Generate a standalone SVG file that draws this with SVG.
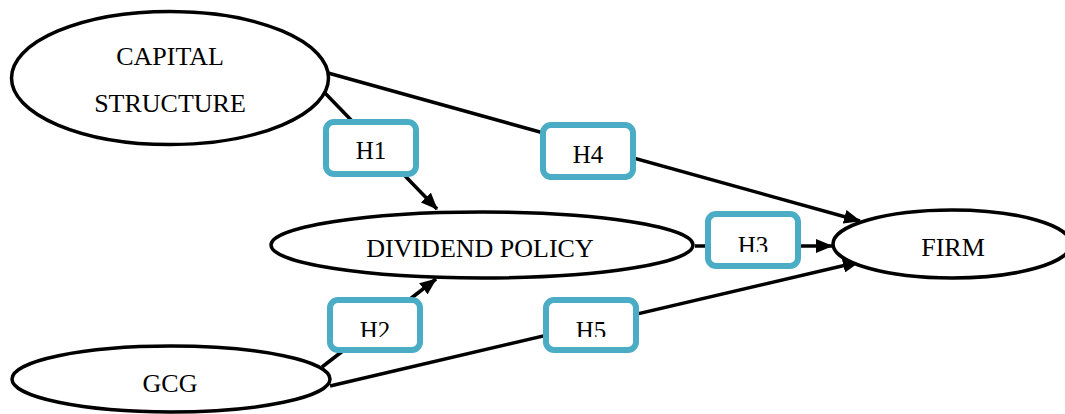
<svg xmlns="http://www.w3.org/2000/svg" width="1065" height="414" viewBox="0 0 1065 414">
<style>
.node{fill:#fff;stroke:#000;stroke-width:3.5}
.hyp{fill:#fff;stroke:#4BACC6;stroke-width:6}
.lbl{font-family:"Liberation Serif","Times New Roman",serif;font-size:26px;fill:#000;text-anchor:middle}
.hl{font-family:"Liberation Serif","Times New Roman",serif;font-size:25px;fill:#000;text-anchor:middle}
.edge{stroke:#000;stroke-width:3.5;fill:none}
</style>
<defs>
<marker id="arr" markerUnits="userSpaceOnUse" markerWidth="18" markerHeight="14" refX="16" refY="7" orient="auto">
<path d="M0,0 L17,7 L0,14 z" fill="#000"/>
</marker>
<clipPath id="c2"><rect x="330" y="300" width="90" height="37"/></clipPath>
<clipPath id="c5"><rect x="546" y="300" width="90" height="37"/></clipPath>
<clipPath id="c3"><rect x="708" y="214" width="90" height="38"/></clipPath>
</defs>
<g id="connectors">
<line class="edge" x1="325" y1="93" x2="437" y2="209" marker-end="url(#arr)"/>
<line class="edge" x1="328" y1="73" x2="860" y2="221" marker-end="url(#arr)"/>
<line class="edge" x1="695" y1="246" x2="832" y2="246" marker-end="url(#arr)"/>
<line class="edge" x1="322" y1="367" x2="436" y2="279" marker-end="url(#arr)"/>
<line class="edge" x1="330" y1="386" x2="859" y2="262" marker-end="url(#arr)"/>
</g>
<g id="capital-structure">
<ellipse class="node" cx="170" cy="78" rx="158.5" ry="66.5"/>
<text class="lbl" x="170" y="65">CAPITAL</text>
<text class="lbl" x="170" y="112">STRUCTURE</text>
</g>
<g id="dividend-policy">
<ellipse class="node" cx="482" cy="245" rx="211" ry="33"/>
<text class="lbl" x="480" y="257">DIVIDEND POLICY</text>
</g>
<g id="firm">
<ellipse class="node" cx="952" cy="244" rx="119" ry="34"/>
<text class="lbl" x="953" y="256">FIRM</text>
</g>
<g id="gcg">
<ellipse class="node" cx="171" cy="379" rx="159" ry="33"/>
<text class="lbl" x="170" y="392">GCG</text>
</g>
<g id="h1">
<rect class="hyp" x="326" y="122" width="90" height="52" rx="8"/>
<text class="hl" x="371" y="159">H1</text>
</g>
<g id="h4">
<rect class="hyp" x="543" y="125" width="90" height="52" rx="8"/>
<text class="hl" x="588" y="163">H4</text>
</g>
<g id="h3">
<rect class="hyp" x="708" y="214" width="90" height="52" rx="8"/>
<text class="hl" x="753" y="254" clip-path="url(#c3)">H3</text>
</g>
<g id="h2">
<rect class="hyp" x="330" y="300" width="90" height="50" rx="8"/>
<text class="hl" x="375" y="339" clip-path="url(#c2)">H2</text>
</g>
<g id="h5">
<rect class="hyp" x="546" y="300" width="90" height="50" rx="8"/>
<text class="hl" x="591" y="339" clip-path="url(#c5)">H5</text>
</g>
</svg>
